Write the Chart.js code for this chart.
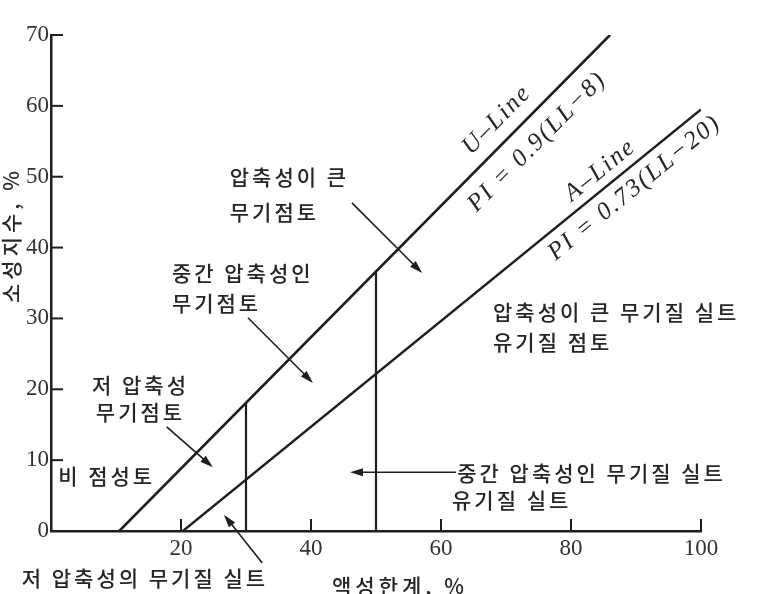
<!DOCTYPE html>
<html lang="ko">
<head>
<meta charset="utf-8">
<title>소성도</title>
<script src="https://cdn.jsdelivr.net/npm/chart.js@4.4.1/dist/chart.umd.min.js"></script>
<style>
  html, body { margin: 0; padding: 0; background: #fff; overflow: hidden; }
  #wrap { width: 770px; height: 594px; position: relative; }
</style>
</head>
<body>
<div id="wrap"><canvas id="plasticityChart"></canvas></div>
<script>
// 액성한계(LL)와 소성지수(PI) - 그림에서 읽은 값
const uLineLL = [10.5, 86];
const uLinePI = [0, 70];
const aLineLL = [20.3, 100];
const aLinePI = [0, 59.5];
const dividerLL = [30, 50];
const dividerTopPI = [18.2, 36.8];

const xTickValues = [20, 40, 60, 80, 100];
const yTickValues = [0, 10, 20, 30, 40, 50, 60, 70];

const INK = "#1e1e1e";
const KR_FONT = "500 21px 'Noto Sans CJK KR', sans-serif";

function toPoints(xs, ys) {
    return xs.map((x, i) => ({ x: x, y: ys[i] }));
}

// 구분선(세로선) 데이터셋
const dividerSets = dividerLL.map((ll, i) => ({
    label: "LL=" + ll,
    data: [{ x: ll, y: 0 }, { x: ll, y: dividerTopPI[i] }],
    borderColor: INK,
    borderWidth: 2.2
}));

// 영역 이름과 화살표 (데이터 좌표)
const areaLabels = [
    { text: "압축성이 큰", x: 27.5, y: 50.0 },
    { text: "무기점토", x: 27.5, y: 45.0 },
    { text: "중간 압축성인", x: 18.6, y: 36.4 },
    { text: "무기점토", x: 18.6, y: 32.2 },
    { text: "저 압축성", x: 6.3, y: 20.6 },
    { text: "무기점토", x: 6.9, y: 16.8 },
    { text: "비 점성토", x: 1.1, y: 7.8 },
    { text: "압축성이 큰 무기질 실트", x: 68.0, y: 30.9 },
    { text: "유기질 점토", x: 68.0, y: 26.7 },
    { text: "중간 압축성인 무기질 실트", x: 62.5, y: 8.2 },
    { text: "유기질 실트", x: 61.7, y: 4.4 },
    { text: "저 압축성의 무기질 실트", x: -4.5, y: -6.6 }
];
const arrows = [
    [46.3, 46.3, 57.1, 36.4],
    [30.3, 30.1, 40.3, 20.9],
    [17.8, 14.7, 24.9, 9.0],
    [62.3, 8.3, 46.0, 8.3],
    [32.5, -4.5, 26.6, 2.3]
];
const lineLabels = [
    { text: "U–Line", x: 68.6, y: 58.0, along: 0 },
    { text: "PI = 0.9(LL−8)", x: 74.8, y: 54.9, along: 0 },
    { text: "A–Line", x: 84.5, y: 50.9, along: 1 },
    { text: "PI = 0.73(LL−20)", x: 89.8, y: 48.4, along: 1 }
];

function drawArrow(ctx, x1, y1, x2, y2) {
    const ang = Math.atan2(y2 - y1, x2 - x1);
    const len = 13, half = 4;
    ctx.beginPath();
    ctx.moveTo(x1, y1);
    ctx.lineTo(x2 - Math.cos(ang) * len * 0.8, y2 - Math.sin(ang) * len * 0.8);
    ctx.stroke();
    ctx.beginPath();
    ctx.moveTo(x2, y2);
    ctx.lineTo(x2 - Math.cos(ang) * len - Math.sin(ang) * half, y2 - Math.sin(ang) * len + Math.cos(ang) * half);
    ctx.lineTo(x2 - Math.cos(ang) * len + Math.sin(ang) * half, y2 - Math.sin(ang) * len - Math.cos(ang) * half);
    ctx.closePath();
    ctx.fill();
}

// 안쪽 눈금, 영역 설명, 선 이름을 그리는 플러그인
const plasticityDecor = {
    id: "plasticityDecor",
    afterDraw(chart) {
        const ctx = chart.ctx;
        const xs = chart.scales.x, ys = chart.scales.y;
        const area = chart.chartArea;
        ctx.save();
        ctx.strokeStyle = INK;
        ctx.fillStyle = INK;
        ctx.lineWidth = 2;

        // 안쪽 눈금
        xTickValues.forEach(v => {
            const px = xs.getPixelForValue(v);
            ctx.beginPath();
            ctx.moveTo(px, area.bottom);
            ctx.lineTo(px, area.bottom - 12);
            ctx.stroke();
        });
        yTickValues.slice(1).forEach(v => {
            const py = ys.getPixelForValue(v);
            ctx.beginPath();
            ctx.moveTo(area.left, py);
            ctx.lineTo(area.left + 12, py);
            ctx.stroke();
        });

        // 영역 설명
        ctx.font = KR_FONT;
        ctx.letterSpacing = "3px";
        ctx.textAlign = "left";
        ctx.textBaseline = "middle";
        ctx.fillStyle = "#262626";
        areaLabels.forEach(l => {
            ctx.fillText(l.text, xs.getPixelForValue(l.x), ys.getPixelForValue(l.y));
        });

        // 화살표
        ctx.fillStyle = INK;
        ctx.lineWidth = 1.6;
        arrows.forEach(a => {
            drawArrow(ctx, xs.getPixelForValue(a[0]), ys.getPixelForValue(a[1]),
                xs.getPixelForValue(a[2]), ys.getPixelForValue(a[3]));
        });

        // 선 이름 (선 기울기에 맞춰 회전)
        const lines = [[uLineLL, uLinePI], [aLineLL, aLinePI]];
        ctx.letterSpacing = "2px";
        ctx.font = "italic 25px 'Liberation Serif', serif";
        ctx.textAlign = "center";
        ctx.fillStyle = "#262626";
        lineLabels.forEach(l => {
            const ln = lines[l.along];
            const dx = xs.getPixelForValue(ln[0][1]) - xs.getPixelForValue(ln[0][0]);
            const dy = ys.getPixelForValue(ln[1][1]) - ys.getPixelForValue(ln[1][0]);
            ctx.save();
            ctx.translate(xs.getPixelForValue(l.x), ys.getPixelForValue(l.y));
            ctx.rotate(Math.atan2(dy, dx));
            ctx.fillText(l.text, 0, 0);
            ctx.restore();
        });

        // 축 제목
        ctx.font = KR_FONT;
        ctx.letterSpacing = "4px";
        ctx.textAlign = "left";
        ctx.textBaseline = "top";
        ctx.fillText("액성한계, %", 332, 576);
        ctx.save();
        ctx.translate(11, 235);
        ctx.rotate(-Math.PI / 2);
        ctx.textAlign = "center";
        ctx.textBaseline = "middle";
        ctx.fillText("소성지수, %", 0, 0);
        ctx.restore();

        ctx.restore();
    }
};

const ctx = document.getElementById("plasticityChart").getContext("2d");

const plasticityChart = new Chart(ctx, {
    type: "scatter",
    data: {
        datasets: [
            {
                label: "U-Line",
                data: toPoints(uLineLL, uLinePI),
                borderColor: INK,
                borderWidth: 2.6
            },
            {
                label: "A-Line",
                data: toPoints(aLineLL, aLinePI),
                borderColor: INK,
                borderWidth: 2.4
            }
        ].concat(dividerSets)
    },
    options: {
        responsive: true,
        maintainAspectRatio: false,
        animation: false,
        showLine: true,
        elements: {
            point: { radius: 0, hoverRadius: 0 },
            line: { tension: 0 }
        },
        layout: {
            padding: { top: 35, right: 69, bottom: 0, left: 0 }
        },
        scales: {
            x: {
                type: "linear",
                min: 0,
                max: 100,
                afterFit: s => { s.height = 63; },
                grid: { display: false, drawTicks: false },
                border: { display: true, color: INK, width: 2.5 },
                ticks: {
                    stepSize: 20,
                    padding: 4,
                    color: "#333",
                    font: { family: "'Liberation Serif', serif", size: 23 },
                    callback: v => (xTickValues.includes(v) ? v : "")
                }
            },
            y: {
                type: "linear",
                min: 0,
                max: 70,
                afterFit: s => { s.width = 51; },
                grid: { display: false, drawTicks: false },
                border: { display: true, color: INK, width: 2.5 },
                ticks: {
                    stepSize: 10,
                    padding: 2,
                    color: "#333",
                    font: { family: "'Liberation Serif', serif", size: 23 },
                    callback: v => (yTickValues.includes(v) ? v : "")
                }
            }
        },
        plugins: {
            legend: { display: false },
            tooltip: { enabled: false }
        }
    },
    plugins: [plasticityDecor]
});
</script>
</body>
</html>
